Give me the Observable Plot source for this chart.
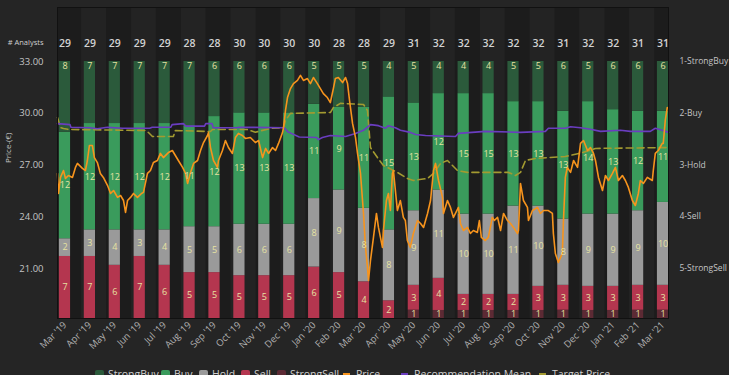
<!DOCTYPE html>
<html><head><meta charset="utf-8">
<script src="https://cdn.jsdelivr.net/npm/d3@7"></script>
<script src="https://cdn.jsdelivr.net/npm/@observablehq/plot@0.6"></script>
<style>
body{margin:0;background:#252525;font-family:"Open Sans",sans-serif;}
#wrap{position:relative;width:729px;height:375px;overflow:hidden;}
#legend{position:absolute;top:366px;left:0;width:729px;height:16px;font-size:10.5px;color:#cfcfcf;}
.item{position:absolute;top:0;display:flex;align-items:center;height:16px;white-space:nowrap;}
.sw{width:9px;height:9px;border-radius:2px;margin-right:4px;}
.ln{width:7px;height:2px;margin-right:6px;}
</style></head><body><div id="wrap"><div id="chart"></div><div id="legend"></div></div>
<script>
// ---- data ----
const months = ["Mar '19","Apr '19","May '19","Jun '19","Jul '19","Aug '19","Sep '19","Oct '19","Nov '19","Dec '19","Jan '20","Feb '20","Mar '20","Apr '20","May '20","Jun '20","Jul '20","Aug '20","Sep '20","Oct '20","Nov '20","Dec '20","Jan '21","Feb '21","Mar '21"];
const analysts   = [29,29,29,29,29,28,28,30,30,30,30,28,28,29,31,32,32,32,32,32,31,32,32,31,31];
const strongBuy  = [8,7,7,7,7,7,6,6,6,6,5,5,5,4,5,4,4,4,5,5,6,5,6,6,6];
const buy        = [12,12,12,12,12,11,12,13,13,13,11,9,11,15,13,12,15,15,13,13,13,14,13,12,11];
const hold       = [2,3,4,3,4,5,5,6,6,6,8,9,8,8,9,11,10,10,11,10,8,9,9,9,10];
const sell       = [7,7,6,7,6,5,5,5,5,5,6,5,4,2,3,4,2,2,2,3,3,3,3,3,3];
const strongSell = [0,0,0,0,0,0,0,0,0,0,0,0,0,0,1,1,1,1,1,1,1,1,1,1,1];
const priceTicks = [21,24,27,30,33];
const recTicks = ["1-StrongBuy","2-Buy","3-Hold","4-Sell","5-StrongSell"];
// [months since Mar '19, value]
const price = [[-0.30,26.51],[-0.26,25.35],[-0.18,26.28],[-0.06,26.68],[0.02,26.22],[0.14,26.39],[0.30,26.28],[0.42,26.86],[0.50,27.09],[0.70,26.80],[0.82,26.68],[0.90,27.26],[0.98,28.13],[1.10,28.13],[1.18,27.43],[1.30,27.14],[1.42,26.51],[1.54,26.28],[1.71,25.81],[1.83,25.35],[1.95,25.52],[2.11,25.12],[2.23,25.23],[2.35,24.94],[2.43,24.25],[2.51,24.94],[2.63,25.12],[2.75,25.35],[2.91,25.12],[3.07,25.35],[3.15,25.41],[3.31,26.51],[3.43,26.68],[3.55,27.14],[3.71,27.26],[3.83,27.67],[3.95,27.43],[4.15,27.72],[4.31,27.84],[4.43,27.55],[4.55,27.26],[4.72,26.86],[4.84,26.51],[4.92,25.93],[5.04,26.57],[5.16,27.09],[5.32,27.26],[5.44,27.84],[5.56,28.30],[5.72,28.71],[5.76,28.88],[5.84,28.01],[5.96,27.26],[6.12,26.86],[6.16,27.26],[6.32,27.84],[6.44,28.42],[6.56,28.01],[6.72,27.67],[6.84,28.59],[6.96,28.83],[7.12,28.71],[7.24,28.54],[7.44,28.59],[7.64,28.30],[7.77,28.42],[7.93,27.43],[8.05,27.96],[8.17,27.67],[8.33,28.01],[8.45,27.84],[8.57,28.25],[8.73,28.88],[8.77,29.17],[8.85,30.16],[8.93,30.91],[9.05,31.43],[9.17,31.72],[9.33,31.90],[9.45,32.19],[9.57,31.90],[9.73,32.01],[9.85,31.72],[9.97,32.07],[10.13,31.72],[10.25,31.43],[10.37,31.14],[10.53,30.91],[10.65,30.62],[10.77,31.43],[10.85,32.01],[10.97,32.07],[11.14,31.78],[11.26,32.07],[11.34,31.72],[11.42,30.74],[11.54,29.41],[11.66,28.59],[11.74,27.67],[11.86,26.51],[11.98,24.19],[12.06,22.22],[12.14,21.06],[12.18,20.30],[12.26,21.46],[12.38,22.80],[12.50,24.19],[12.58,23.38],[12.74,22.22],[12.78,23.20],[12.90,24.94],[12.98,25.35],[13.06,24.36],[13.14,26.51],[13.18,26.68],[13.34,24.36],[13.46,24.94],[13.58,23.96],[13.66,23.78],[13.74,22.62],[13.86,22.22],[13.98,23.03],[14.15,23.78],[14.27,23.61],[14.39,23.38],[14.55,24.19],[14.67,24.94],[14.79,26.68],[14.87,27.09],[14.99,26.10],[15.15,25.12],[15.19,24.19],[15.35,24.94],[15.47,24.54],[15.59,23.96],[15.67,24.19],[15.79,24.54],[15.87,23.61],[15.99,23.20],[16.15,23.38],[16.27,23.03],[16.39,23.20],[16.55,23.09],[16.63,23.78],[16.71,22.80],[16.87,22.62],[16.99,22.80],[17.15,23.96],[17.23,23.78],[17.36,23.96],[17.48,23.20],[17.60,24.19],[17.76,23.78],[17.88,23.61],[18.00,23.38],[18.16,23.03],[18.20,23.20],[18.28,25.93],[18.40,24.94],[18.56,24.54],[18.60,23.78],[18.76,24.36],[18.96,24.54],[19.08,24.19],[19.20,24.36],[19.40,24.36],[19.56,24.19],[19.60,23.03],[19.68,21.87],[19.80,21.35],[19.96,21.87],[20.00,23.61],[20.08,26.28],[20.16,26.86],[20.29,26.57],[20.41,27.26],[20.57,26.86],[20.69,28.25],[20.81,28.42],[20.97,27.84],[21.09,28.01],[21.21,27.67],[21.29,27.26],[21.41,26.28],[21.57,25.52],[21.69,26.39],[21.81,26.10],[21.97,26.51],[22.09,26.86],[22.21,26.10],[22.37,26.39],[22.49,26.10],[22.61,25.70],[22.77,24.94],[22.89,24.65],[23.01,25.35],[23.09,26.10],[23.21,25.93],[23.37,26.28],[23.57,26.10],[23.61,26.68],[23.69,27.67],[23.81,27.84],[23.97,28.25],[24.01,28.25],[24.09,29.58],[24.17,30.33]];
const recMean = [[-0.30,2.20],[0.20,2.22],[0.24,2.27],[1.00,2.28],[1.30,2.30],[1.70,2.27],[2.30,2.29],[3.40,2.29],[3.50,2.27],[4.25,2.27],[4.30,2.22],[4.75,2.20],[4.85,2.25],[5.60,2.25],[5.65,2.20],[5.90,2.20],[5.95,2.28],[6.90,2.28],[7.00,2.27],[8.80,2.28],[8.95,2.36],[9.40,2.46],[10.10,2.47],[10.17,2.51],[10.33,2.47],[10.65,2.43],[11.26,2.45],[11.66,2.39],[11.98,2.33],[12.26,2.22],[12.58,2.24],[12.86,2.29],[12.98,2.24],[13.26,2.28],[13.46,2.33],[13.86,2.37],[14.07,2.41],[14.47,2.43],[15.67,2.45],[15.79,2.39],[16.87,2.35],[18.28,2.37],[19.28,2.35],[19.40,2.29],[20.08,2.29],[20.29,2.26],[20.69,2.28],[21.09,2.31],[21.49,2.35],[22.29,2.33],[22.69,2.35],[23.49,2.35],[23.69,2.29],[23.97,2.33],[24.22,2.37]];
const target = [[-0.30,29.75],[-0.18,29.17],[-0.06,29.12],[0.14,29.06],[3.23,29.00],[3.35,28.88],[3.51,28.65],[4.35,28.65],[4.43,29.00],[5.84,28.94],[5.92,29.06],[7.30,29.06],[7.64,28.90],[8.25,29.12],[8.77,29.17],[8.85,29.58],[9.05,29.99],[10.65,30.04],[10.77,30.33],[11.05,30.57],[11.98,30.51],[12.14,30.16],[12.26,28.01],[12.54,27.43],[12.78,26.97],[13.34,26.57],[13.74,26.22],[13.98,26.10],[14.55,26.22],[14.79,26.51],[15.07,27.09],[15.35,27.26],[15.75,26.68],[16.15,26.57],[17.80,26.57],[18.08,26.39],[18.28,26.57],[18.48,27.26],[18.88,27.38],[20.08,27.49],[20.77,27.72],[21.29,27.96],[24.22,28.01]];

// ---- styling ----
const colors = {StrongBuy:"#2b5a3b", Buy:"#3a9b5c", Hold:"#9a9a9a", Sell:"#b4364f", StrongSell:"#5c2a34"};
const lineColors = {Price:"#f7941d", "Recommendation Mean":"#6a3dc0", "Target Price":"#a39a30"};
const W = 729, H = 362;
const BAR_BASE = 18.10, BAR_TOP = 33;           // price-equivalent of 0% and 100% of a bar
const recToPrice = r => 33 - (r - 1) * 3;       // right axis 1..5 aligned with 33..21

const series = [["StrongBuy",strongBuy],["Buy",buy],["Hold",hold],["Sell",sell],["StrongSell",strongSell]];
const segs = [];
months.forEach((m, i) => {
  const n = series.reduce((s, [, a]) => s + a[i], 0);
  let cum = 0;
  for (let k = series.length - 1; k >= 0; k--) {
    const [name, arr] = series[k]; const v = arr[i];
    const y1 = BAR_BASE + cum / n * (BAR_TOP - BAR_BASE);
    cum += v;
    const y2 = BAR_BASE + cum / n * (BAR_TOP - BAR_BASE);
    if (v > 0) segs.push({i, name, v, y1, y2});
  }
});
const cols = months.map((m, i) => ({i, m, n: analysts[i]}));

const chart = Plot.plot({
  width: W, height: H,
  marginLeft: 57, marginRight: 61, marginTop: 7, marginBottom: H - 318,
  style: {background: "transparent", color: "#c4c4c4", fontFamily: "'Open Sans', sans-serif", fontSize: "10px", overflow: "visible"},
  x: {type: "linear", domain: [-0.30, 24.22]},
  y: {domain: [18.10, 36.13]},
  marks: [
    Plot.rect(cols, {x1: d => d.i - 0.33, x2: d => d.i + 0.67, fill: d => d.i % 2 ? "#232323" : "#1c1c1c", clip: true}),
    Plot.rect(segs, {x1: d => d.i - 0.225, x2: d => d.i + 0.225, y1: "y1", y2: "y2", fill: d => colors[d.name]}),
    Plot.line(target, {x: d => d[0], y: d => d[1], stroke: lineColors["Target Price"], strokeWidth: 1.6, strokeDasharray: "7,4"}),
    Plot.line(recMean, {x: d => d[0], y: d => recToPrice(d[1]), stroke: lineColors["Recommendation Mean"], strokeWidth: 1.6}),
    Plot.line(price, {x: d => d[0], y: d => d[1], stroke: lineColors.Price, strokeWidth: 1.6}),
    Plot.text(segs.filter(d => d.name !== "StrongBuy"), {x: "i", y: d => (d.y1 + d.y2) / 2, text: "v", fill: "#e6e2a2", fontSize: 9}),
    Plot.text(segs.filter(d => d.name === "StrongBuy"), {x: "i", y: "y2", dy: 5, text: "v", fill: "#e6e2a2", fontSize: 9}),
    Plot.text(cols, {x: "i", frameAnchor: "top", dy: 32, text: "n", fill: "#d2d2d2", fontSize: 10.5, fontWeight: 600}),
    Plot.text(["# Analysts"], {frameAnchor: "top-left", dx: -14, dy: 32, textAnchor: "end", fontSize: 7.5, fill: "#cfcfcf"}),
    Plot.text(["Price-(€)"], {frameAnchor: "left", dx: -49, rotate: -90, fontSize: 8, fill: "#c4c4c4"}),
    Plot.axisY({anchor: "left", ticks: priceTicks, tickFormat: d => d.toFixed(2), tickSize: 0, tickPadding: 14, label: null, fontSize: 9.5}),
    Plot.axisY({anchor: "right", ticks: priceTicks.slice().reverse(), tickFormat: (d, k) => recTicks[k], tickSize: 0, tickPadding: 11, label: null, fontSize: 8.5}),
    Plot.axisX({ticks: d3.range(months.length), tickFormat: i => months[i], tickRotate: -45, tickSize: 0, tickPadding: 5, label: null, fontSize: 9.5, fill: "#b0b0b0"}),
    Plot.frame({stroke: "#111111"})
  ]
});
document.getElementById("chart").appendChild(chart);

// ---- legend ----
const legendItems = [
  {label: "StrongBuy", color: colors.StrongBuy, kind: "sw", left: 95},
  {label: "Buy", color: colors.Buy, kind: "sw", left: 161},
  {label: "Hold", color: colors.Hold, kind: "sw", left: 199},
  {label: "Sell", color: colors.Sell, kind: "sw", left: 241},
  {label: "StrongSell", color: colors.StrongSell, kind: "sw", left: 277},
  {label: "Price", color: lineColors.Price, kind: "ln", left: 343},
  {label: "Recommendation Mean", color: lineColors["Recommendation Mean"], kind: "ln", left: 401},
  {label: "Target Price", color: lineColors["Target Price"], kind: "ln", left: 539}
];
const lg = document.getElementById("legend");
legendItems.forEach(it => {
  const d = document.createElement("div");
  d.className = "item"; d.style.left = it.left + "px";
  const s = document.createElement("span"); s.className = it.kind; s.style.background = it.color;
  const t = document.createElement("span"); t.textContent = it.label;
  d.appendChild(s); d.appendChild(t); lg.appendChild(d);
});
</script></body></html>
